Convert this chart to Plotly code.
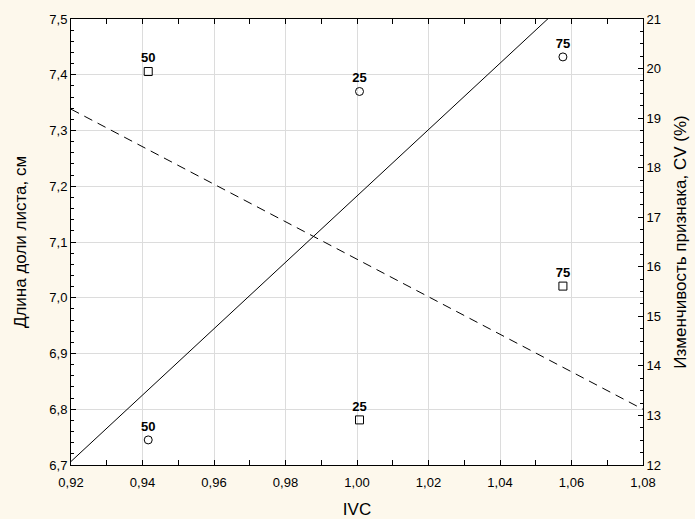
import numpy as np
import plotly.graph_objects as go

# IVC values
ivc = [0.9416, 1.0007, 1.0576]
labels = ["50", "25", "75"]
# Leaf lobe length, cm (left axis, circles)
length_cm = [6.745, 7.370, 7.432]
# Coefficient of variation, % (right axis, squares)
cv_pct = [19.94, 12.91, 15.61]

x_range = [0.92, 1.08]

# linear fits
k1, b1 = np.polyfit(ivc, length_cm, 1)
k2, b2 = np.polyfit(ivc, cv_pct, 1)
xl = np.array(x_range)

font_family = "Liberation Sans, Arial, sans-serif"

fig = go.Figure()
fig.add_trace(go.Scatter(x=xl, y=k1 * xl + b1, mode="lines",
                         line=dict(color="black", width=1), showlegend=False))
fig.add_trace(go.Scatter(x=xl, y=k2 * xl + b2, mode="lines", yaxis="y2",
                         line=dict(color="black", width=1, dash="9px,6px"),
                         showlegend=False))
fig.add_trace(go.Scatter(x=ivc, y=length_cm, mode="markers+text", text=labels,
                         textposition="top center",
                         textfont=dict(family=font_family, size=13, color="black", weight="bold"),
                         marker=dict(symbol="circle-open", size=8, color="black",
                                     line=dict(width=1, color="black")),
                         showlegend=False))
fig.add_trace(go.Scatter(x=ivc, y=cv_pct, mode="markers+text", text=labels, yaxis="y2",
                         textposition="top center",
                         textfont=dict(family=font_family, size=13, color="black", weight="bold"),
                         marker=dict(symbol="square-open", size=8, color="black",
                                     line=dict(width=1, color="black")),
                         showlegend=False))

axis_common = dict(showline=True, linecolor="black", linewidth=1,
                   ticks="inside", ticklen=5, tickcolor="black",
                   tickfont=dict(family=font_family, size=13, color="black"),
                   zeroline=False, automargin=False)

fig.update_layout(
    width=695, height=519,
    margin=dict(l=71, r=52, t=19, b=54),
    paper_bgcolor="#FDF8EC",
    plot_bgcolor="white",
    separators=", ",
    font=dict(family=font_family, color="black"),
    xaxis=dict(range=x_range, dtick=0.02, tick0=0.92, tickformat=".2f",
               showgrid=True, gridcolor="#DCDCDC", gridwidth=1, mirror="allticks",
               ticklabelstandoff=5,
               minor=dict(dtick=0.01, ticks="inside", ticklen=3, tickcolor="black", showgrid=False),
               title=dict(text="IVC", font=dict(size=17), standoff=14),
               **axis_common),
    yaxis=dict(range=[6.7, 7.5], dtick=0.1, tick0=6.7, tickformat=".1f",
               showgrid=True, gridcolor="#DCDCDC", gridwidth=1,
               minor=dict(dtick=0.02, ticks="inside", ticklen=3, tickcolor="black", showgrid=False),
               title=dict(text="Длина доли листа, см", font=dict(size=17), standoff=18),
               **axis_common),
    yaxis2=dict(range=[12, 21], dtick=1, tick0=12, overlaying="y", side="right",
                showgrid=False,
                minor=dict(dtick=0.25, ticks="inside", ticklen=3, tickcolor="black", showgrid=False),
                title=dict(text="Изменчивость признака, CV (%)", font=dict(size=17), standoff=14),
                **axis_common),
)

fig.write_html("out.html")
